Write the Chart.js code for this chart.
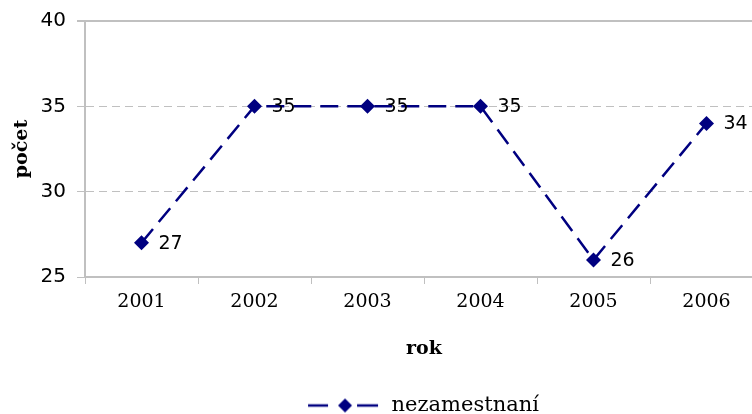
<!DOCTYPE html>
<html>
<head>
<meta charset="utf-8">
<script src="https://cdn.jsdelivr.net/npm/chart.js@4"></script>
<style>
  html, body { margin: 0; padding: 0; background: #fff; overflow: hidden; }
  #wrap { width: 844px; height: 414px; }
</style>
</head>
<body>
<div id="wrap"><canvas id="myChart" width="844" height="414"></canvas></div>
<script>
// data
const years = ["2001", "2002", "2003", "2004", "2005", "2006"];
const counts = [27, 35, 35, 35, 26, 34];
const seriesName = "nezamestnaní";
const yMin = 25, yMax = 40, yStep = 5;

const navy = "#000080";
const gray = "#c0c0c0";
const serif = "'DejaVu Serif', serif";
const sans = "'DejaVu Sans', sans-serif";

// legend symbol: dash - diamond - dash
function legendSymbol() {
    const c = document.createElement("canvas");
    c.width = 76;
    c.height = 16;
    const g = c.getContext("2d");
    g.strokeStyle = navy;
    g.lineWidth = 2.5;
    g.beginPath();
    g.moveTo(3, 8); g.lineTo(23, 8);
    g.moveTo(52, 8); g.lineTo(73, 8);
    g.stroke();
    g.fillStyle = navy;
    g.beginPath();
    g.moveTo(40, 1); g.lineTo(47, 8); g.lineTo(40, 15); g.lineTo(33, 8);
    g.closePath();
    g.fill();
    return c;
}

// value labels to the right of each point
const valueLabels = {
    id: "valueLabels",
    afterLayout(chart) {
        // legend is centred on the whole (uncropped) chart width
        chart.legend.right = chart.width;
    },
    afterDatasetsDraw(chart) {
        const ctx = chart.ctx;
        const meta = chart.getDatasetMeta(0);
        ctx.save();
        ctx.font = "19px " + sans;
        ctx.fillStyle = "#000";
        ctx.textBaseline = "middle";
        ctx.textAlign = "left";
        meta.data.forEach((pt, i) => {
            ctx.fillText(counts[i], pt.x + 17, pt.y + 1);
        });
        ctx.restore();
    }
};

const ctx = document.getElementById("myChart");
const myChart = new Chart(ctx, {
    type: "line",
    data: {
        labels: years,
        datasets: [{
            label: seriesName,
            data: counts,
            borderColor: navy,
            backgroundColor: navy,
            borderWidth: 2.5,
            borderDash: [18, 9],
            pointStyle: "rectRot",
            pointRadius: 7.5,
            pointBorderWidth: 0,
            pointBackgroundColor: navy,
            tension: 0,
            fill: false
        }]
    },
    options: {
        responsive: false,
        animation: false,
        layout: { padding: { top: 18, right: 81, left: 0, bottom: -12 } },
        plugins: {
            tooltip: { enabled: false },
            legend: {
                position: "bottom",
                labels: {
                    usePointStyle: true,
                    pointStyleWidth: 76,
                    padding: 1,
                    color: "#000",
                    font: { family: serif, size: 21 },
                    generateLabels: (chart) => [{
                        text: seriesName,
                        pointStyle: legendSymbol(),
                        fillStyle: navy,
                        strokeStyle: navy,
                        lineWidth: 0,
                        datasetIndex: 0
                    }]
                }
            }
        },
        scales: {
            x: {
                offset: true,
                grid: {
                    offset: true,
                    drawOnChartArea: false,
                    color: gray,
                    tickLength: 7,
                    lineWidth: 1
                },
                border: { color: gray, width: 2 },
                ticks: {
                    color: "#000",
                    padding: 7,
                    font: { family: serif, size: 19 }
                },
                title: {
                    display: true,
                    text: "rok",
                    color: "#000",
                    padding: { top: 10, bottom: 34 },
                    font: { family: serif, size: 19, weight: "bold" }
                },
                afterFit: (scale) => { scale.height = 117; }
            },
            y: {
                min: yMin,
                max: yMax,
                grid: {
                    color: gray,
                    lineWidth: (c) => (c.tick && c.tick.value === yMax) ? 2 : 1,
                    tickLength: 8
                },
                border: {
                    color: gray,
                    width: 2,
                    dash: (c) => (c.tick && c.tick.value !== yMax && c.tick.value !== yMin) ? [8, 5] : []
                },
                ticks: {
                    stepSize: yStep,
                    color: "#000",
                    padding: 11,
                    font: { family: sans, size: 20, lineHeight: 1 }
                },
                title: {
                    display: true,
                    text: "počet",
                    color: "#000",
                    padding: { top: 11, bottom: 0 },
                    font: { family: serif, size: 19, weight: "bold" }
                },
                afterFit: (scale) => { scale.width = 85; }
            }
        }
    },
    plugins: [valueLabels]
});
</script>
</body>
</html>
